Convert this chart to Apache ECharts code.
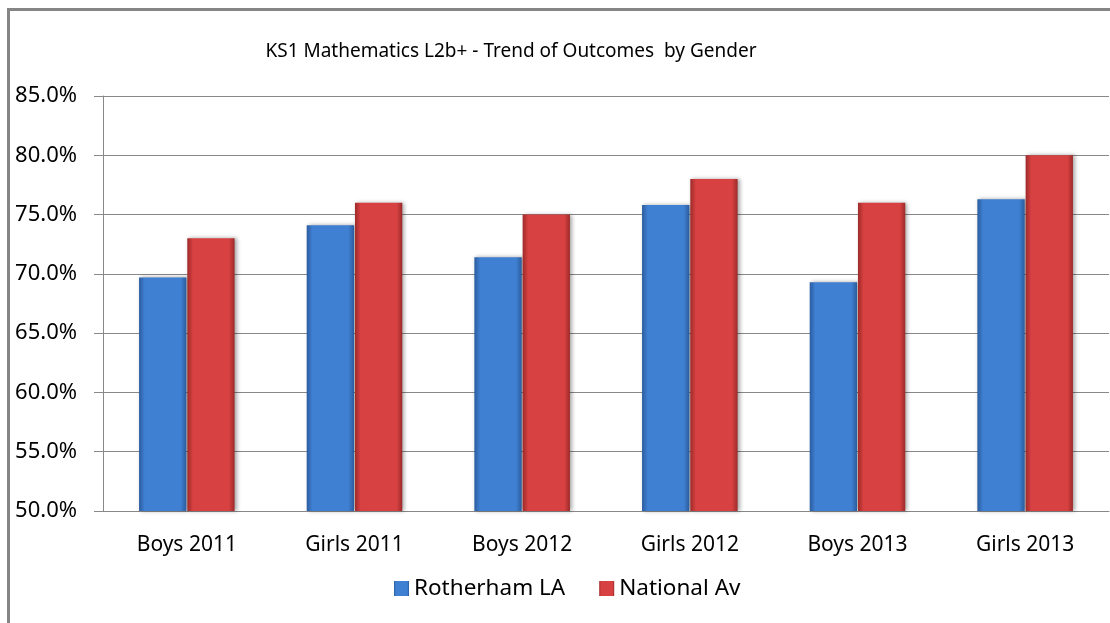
<!DOCTYPE html>
<html>
<head>
<meta charset="utf-8">
<script src="https://cdn.jsdelivr.net/npm/echarts@6/dist/echarts.min.js"></script>
<style>
  html, body { margin: 0; padding: 0; background: #fff; }
  #chart { width: 1110px; height: 623px; }
</style>
</head>
<body>
<div id="chart"></div>
<script>
const categories = ["Boys 2011", "Girls 2011", "Boys 2012", "Girls 2012", "Boys 2013", "Girls 2013"];
const rotherham = [69.7, 74.1, 71.4, 75.8, 69.3, 76.3];
const national = [73, 76, 75, 78, 76, 80];

const font = "Noto Sans";

// horizontal gradient so the bars look rounded like the Excel bevel
const barFill = (edge, mid) => new echarts.graphic.LinearGradient(0, 0, 1, 0, [
  { offset: 0, color: edge },
  { offset: 0.12, color: mid },
  { offset: 0.88, color: mid },
  { offset: 1, color: edge },
]);

const chart = echarts.init(document.getElementById("chart"));

const option = {
  animation: false,
  backgroundColor: "#fff",
  title: {
    text: "KS1 Mathematics L2b+ - Trend of Outcomes  by Gender",
    left: 506,
    top: 37,
    textAlign: "center",
    textStyle: { fontFamily: font, fontSize: 19, fontWeight: "normal", color: "#000" },
  },
  legend: {
    bottom: 18,
    left: 389,
    itemWidth: 15,
    itemHeight: 15,
    itemGap: 34,
    icon: "rect",
    textStyle: { fontFamily: font, fontSize: 22.5, color: "#000" },
    data: ["Rotherham LA", "National Av"],
  },
  grid: { left: 103, right: 1, top: 96, bottom: 112, containLabel: false },
  xAxis: {
    type: "category",
    data: categories,
    axisLine: { lineStyle: { color: "#888" } },
    axisTick: { length: 8, lineStyle: { color: "#888" } },
    axisLabel: { fontFamily: font, fontSize: 21, color: "#000", margin: 24 },
  },
  yAxis: {
    type: "value",
    min: 50,
    max: 85,
    interval: 5,
    axisLine: { show: true, lineStyle: { color: "#888" } },
    axisTick: { show: true, length: 9, lineStyle: { color: "#888" } },
    splitLine: { lineStyle: { color: "#888" } },
    axisLabel: {
      fontFamily: font,
      fontSize: 22,
      color: "#000",
      margin: 26,
      formatter: (v) => v.toFixed(1) + "%",
    },
  },
  series: [
    {
      name: "Rotherham LA",
      type: "bar",
      data: rotherham,
      barGap: "2%",
      barCategoryGap: "43%",
      itemStyle: {
        color: barFill("#2b5c9e", "#3f80d2"),
        shadowBlur: 4,
        shadowColor: "rgba(0,0,0,0.35)",
        shadowOffsetX: 2,
      },
    },
    {
      name: "National Av",
      type: "bar",
      data: national,
      itemStyle: {
        color: barFill("#9e2a2a", "#d84141"),
        shadowBlur: 4,
        shadowColor: "rgba(0,0,0,0.35)",
        shadowOffsetX: 2,
      },
    },
  ],
  graphic: [
    // partial frame: top and left edges of the chart area
    { type: "rect", left: 8, top: 8, shape: { width: 1110, height: 3 }, style: { fill: "#858585" } },
    { type: "rect", left: 7, top: 8, shape: { width: 3, height: 620 }, style: { fill: "#858585" } },
  ],
};

option && chart.setOption(option);
</script>
</body>
</html>
